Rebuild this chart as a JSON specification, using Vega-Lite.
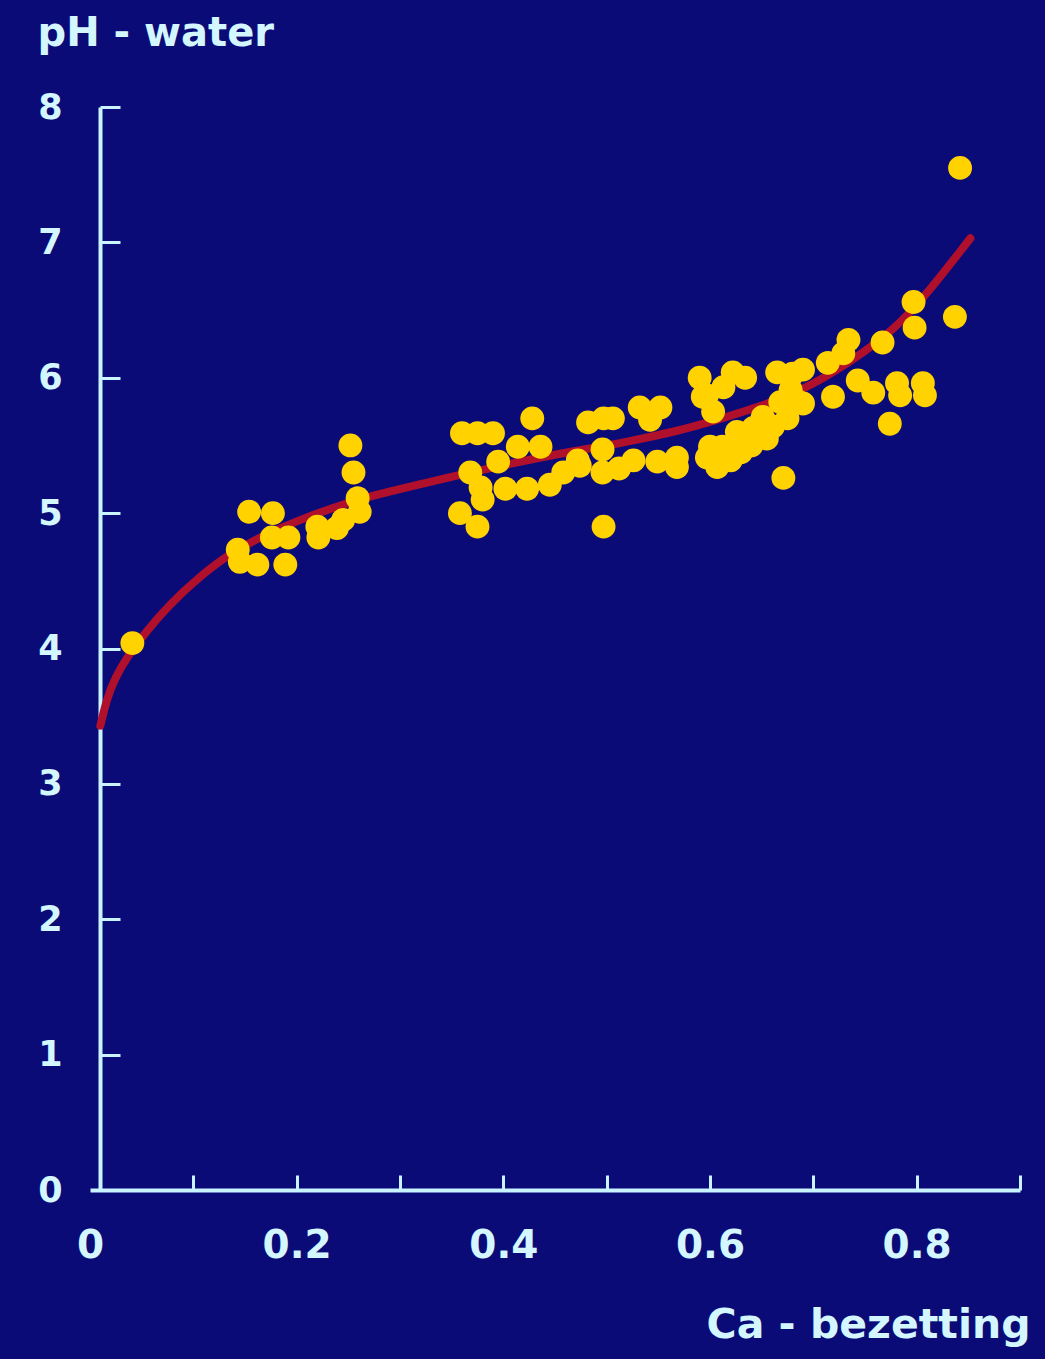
{
  "$schema": "https://vega.github.io/schema/vega-lite/v6.json",
  "width": 930,
  "height": 1083,
  "autosize": "none",
  "padding": {"left": 90, "top": 107, "right": 25, "bottom": 169},
  "background": "#0b0b78",
  "config": {
    "view": {"stroke": null},
    "axis": {
      "grid": false,
      "domainColor": "#c9f3ff",
      "domainWidth": 4,
      "tickColor": "#c9f3ff",
      "tickWidth": 3,
      "labelColor": "#d4f6ff",
      "titleColor": "#d4f6ff",
      "labelFont": "DejaVu Sans",
      "titleFont": "DejaVu Sans",
      "labelFontWeight": "bold",
      "titleFontWeight": "bold",
      "labelFlush": false,
      "labelOverlap": false
    }
  },
  "datasets": {
    "curve": [
      {"ca": 0.010, "ph": 3.43},
      {"ca": 0.016, "ph": 3.62},
      {"ca": 0.024, "ph": 3.78},
      {"ca": 0.036, "ph": 3.94},
      {"ca": 0.056, "ph": 4.14},
      {"ca": 0.075, "ph": 4.31},
      {"ca": 0.107, "ph": 4.54},
      {"ca": 0.139, "ph": 4.72},
      {"ca": 0.172, "ph": 4.85},
      {"ca": 0.203, "ph": 4.95},
      {"ca": 0.235, "ph": 5.04},
      {"ca": 0.268, "ph": 5.12},
      {"ca": 0.329, "ph": 5.23},
      {"ca": 0.356, "ph": 5.28},
      {"ca": 0.410, "ph": 5.37},
      {"ca": 0.442, "ph": 5.42},
      {"ca": 0.484, "ph": 5.48},
      {"ca": 0.516, "ph": 5.52},
      {"ca": 0.571, "ph": 5.61},
      {"ca": 0.603, "ph": 5.68},
      {"ca": 0.650, "ph": 5.79},
      {"ca": 0.697, "ph": 5.93},
      {"ca": 0.752, "ph": 6.20},
      {"ca": 0.784, "ph": 6.40},
      {"ca": 0.810, "ph": 6.62},
      {"ca": 0.852, "ph": 7.03}
    ],
    "points": [
      {"ca": 0.041, "ph": 4.04},
      {"ca": 0.143, "ph": 4.73}, {"ca": 0.145, "ph": 4.64}, {"ca": 0.162, "ph": 4.62}, {"ca": 0.189, "ph": 4.62},
      {"ca": 0.154, "ph": 5.01}, {"ca": 0.177, "ph": 5.00}, {"ca": 0.176, "ph": 4.82}, {"ca": 0.192, "ph": 4.82},
      {"ca": 0.220, "ph": 4.90}, {"ca": 0.221, "ph": 4.82}, {"ca": 0.239, "ph": 4.89}, {"ca": 0.245, "ph": 4.95},
      {"ca": 0.252, "ph": 5.50}, {"ca": 0.255, "ph": 5.30}, {"ca": 0.259, "ph": 5.11}, {"ca": 0.261, "ph": 5.01},
      {"ca": 0.360, "ph": 5.59}, {"ca": 0.375, "ph": 5.59}, {"ca": 0.390, "ph": 5.59}, {"ca": 0.428, "ph": 5.70},
      {"ca": 0.482, "ph": 5.67}, {"ca": 0.497, "ph": 5.70}, {"ca": 0.414, "ph": 5.49}, {"ca": 0.436, "ph": 5.49},
      {"ca": 0.395, "ph": 5.38}, {"ca": 0.368, "ph": 5.30}, {"ca": 0.378, "ph": 5.19}, {"ca": 0.402, "ph": 5.18},
      {"ca": 0.423, "ph": 5.18}, {"ca": 0.445, "ph": 5.21}, {"ca": 0.458, "ph": 5.30}, {"ca": 0.472, "ph": 5.39},
      {"ca": 0.496, "ph": 5.47}, {"ca": 0.496, "ph": 5.30}, {"ca": 0.380, "ph": 5.10}, {"ca": 0.358, "ph": 5.00},
      {"ca": 0.375, "ph": 4.90}, {"ca": 0.497, "ph": 4.90}, {"ca": 0.474, "ph": 5.35}, {"ca": 0.512, "ph": 5.33},
      {"ca": 0.506, "ph": 5.70}, {"ca": 0.532, "ph": 5.78}, {"ca": 0.552, "ph": 5.78}, {"ca": 0.542, "ph": 5.69},
      {"ca": 0.526, "ph": 5.39}, {"ca": 0.549, "ph": 5.38}, {"ca": 0.568, "ph": 5.41}, {"ca": 0.568, "ph": 5.34},
      {"ca": 0.593, "ph": 5.86}, {"ca": 0.600, "ph": 5.49}, {"ca": 0.607, "ph": 5.34}, {"ca": 0.613, "ph": 5.93},
      {"ca": 0.590, "ph": 6.00}, {"ca": 0.597, "ph": 5.87}, {"ca": 0.603, "ph": 5.75}, {"ca": 0.622, "ph": 6.04},
      {"ca": 0.634, "ph": 6.00}, {"ca": 0.665, "ph": 6.04}, {"ca": 0.680, "ph": 6.03}, {"ca": 0.678, "ph": 5.91},
      {"ca": 0.684, "ph": 5.83}, {"ca": 0.668, "ph": 5.82}, {"ca": 0.651, "ph": 5.71}, {"ca": 0.642, "ph": 5.63},
      {"ca": 0.626, "ph": 5.60}, {"ca": 0.661, "ph": 5.64}, {"ca": 0.612, "ph": 5.49}, {"ca": 0.597, "ph": 5.41},
      {"ca": 0.620, "ph": 5.39}, {"ca": 0.671, "ph": 5.26}, {"ca": 0.640, "ph": 5.50}, {"ca": 0.655, "ph": 5.55},
      {"ca": 0.630, "ph": 5.45}, {"ca": 0.675, "ph": 5.70},
      {"ca": 0.797, "ph": 6.56}, {"ca": 0.837, "ph": 6.45}, {"ca": 0.798, "ph": 6.37}, {"ca": 0.767, "ph": 6.26},
      {"ca": 0.734, "ph": 6.28}, {"ca": 0.729, "ph": 6.18}, {"ca": 0.714, "ph": 6.11}, {"ca": 0.743, "ph": 5.98},
      {"ca": 0.719, "ph": 5.86}, {"ca": 0.758, "ph": 5.89}, {"ca": 0.781, "ph": 5.96}, {"ca": 0.806, "ph": 5.96},
      {"ca": 0.808, "ph": 5.87}, {"ca": 0.784, "ph": 5.87}, {"ca": 0.774, "ph": 5.66}, {"ca": 0.690, "ph": 6.06},
      {"ca": 0.690, "ph": 5.81}, {"ca": 0.842, "ph": 7.55}
    ]
  },
  "layer": [
    {
      "data": {"name": "curve"},
      "mark": {"type": "line", "color": "#b0102c", "strokeWidth": 8, "interpolate": "basis", "strokeCap": "round"},
      "encoding": {
        "x": {
          "field": "ca", "type": "quantitative",
          "scale": {"domain": [0, 0.9], "nice": false, "zero": false},
          "axis": {
            "title": "Ca - bezetting",
            "values": [0, 0.1, 0.2, 0.3, 0.4, 0.5, 0.6, 0.7, 0.8, 0.9],
            "labelExpr": "round(datum.value * 10) % 2 == 0 ? (datum.value == 0 ? '0' : format(datum.value, '.1f')) : ''",
            "tickOpacity": {"condition": {"test": "datum.value == 0", "value": 0}, "value": 1},
            "tickSize": -15,
            "labelPadding": 70,
            "labelBaseline": "middle",
            "labelFontSize": 39,
            "titleFontSize": 41,
            "titleAlign": "right",
            "titleBaseline": "middle",
            "titleX": 940,
            "titleY": 135
          }
        },
        "y": {
          "field": "ph", "type": "quantitative",
          "scale": {"domain": [0, 8], "nice": false, "zero": false},
          "axis": {
            "title": "pH - water",
            "values": [0, 1, 2, 3, 4, 5, 6, 7, 8],
            "format": "d",
            "tickOpacity": {"condition": {"test": "datum.value == 0", "value": 0}, "value": 1},
            "offset": -10,
            "tickSize": -20,
            "labelPadding": 58,
            "labelFontSize": 35,
            "titleFontSize": 40,
            "titleAngle": 0,
            "titleAlign": "left",
            "titleBaseline": "middle",
            "titleX": -63,
            "titleY": -74
          }
        }
      }
    },
    {
      "data": {"name": "points"},
      "mark": {"type": "circle", "size": 570, "color": "#ffd200", "opacity": 1},
      "encoding": {
        "x": {"field": "ca", "type": "quantitative"},
        "y": {"field": "ph", "type": "quantitative"}
      }
    }
  ]
}
